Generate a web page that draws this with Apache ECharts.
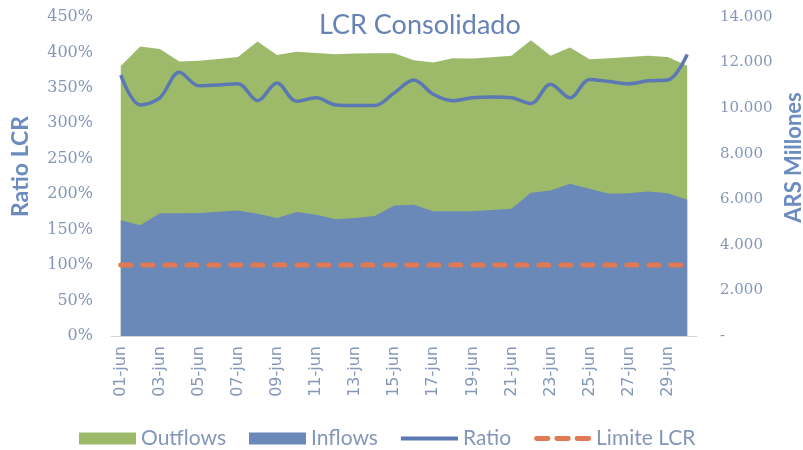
<!DOCTYPE html>
<html>
<head>
<meta charset="utf-8">
<script src="https://cdn.jsdelivr.net/npm/echarts@6/dist/echarts.min.js"></script>
<style>
  html, body { margin: 0; padding: 0; background: #fff; }
  #chart { width: 803px; height: 450px; }
</style>
</head>
<body>
<div id="chart"></div>
<script>
  // dias de junio (01 .. 30)
  var dias = [];
  for (var d = 1; d <= 30; d++) {
    dias.push((d < 10 ? '0' + d : '' + d) + '-jun');
  }

  // ARS millones
  var outflows = [11850, 12700, 12600, 12050, 12080, 12160, 12250, 12920, 12330, 12480,
                  12420, 12370, 12400, 12410, 12410, 12100, 12000, 12190, 12180, 12230,
                  12300, 12980, 12300, 12660, 12150, 12190, 12250, 12300, 12250, 11860];
  var inflows  = [5080, 4860, 5390, 5390, 5400, 5450, 5510, 5360, 5180, 5440,
                  5320, 5120, 5180, 5270, 5730, 5760, 5470, 5470, 5470, 5530,
                  5590, 6290, 6390, 6680, 6460, 6240, 6270, 6340, 6270, 5980];
  // ratio LCR (%)
  var ratio    = [368, 326, 336, 372, 353, 354, 356, 332, 357, 331,
                  336, 326, 325, 325, 343, 361, 341, 332, 336, 337,
                  336, 328, 355, 336, 362, 359, 356, 360, 361, 397];
  var limite   = dias.map(function() { return 100; });

  var LABEL = '#8497b8';
  var TITLE = '#6783b6';
  var NAME  = '#6c8cc0';

  function miles(v) {
    if (v === 0) return '-';
    return String(v).replace(/\B(?=(\d{3})+(?!\d))/g, '.');
  }

  var chart = echarts.init(document.getElementById('chart'));
  chart.setOption({
    animation: false,
    title: {
      text: 'LCR Consolidado',
      left: 314, top: 7,
      textStyle: { fontFamily: 'Lato', fontSize: 27, fontWeight: 'normal', color: TITLE }
    },
    legend: {
      top: 423, left: 74,
      itemWidth: 57, itemHeight: 12, itemGap: 23,
      textStyle: { fontFamily: 'Lato', fontSize: 21, color: LABEL },
      data: [
        { name: 'Outflows', icon: 'rect' },
        { name: 'Inflows', icon: 'rect' },
        { name: 'Ratio', icon: 'path://M0,0H57V4H0Z' },
        { name: 'Limite LCR', icon: 'path://M2,0H14A2,2 0 0 1 14,5H2A2,2 0 0 1 2,0Z M23,0H35A2,2 0 0 1 35,5H23A2,2 0 0 1 23,0Z M44,0H56A2,2 0 0 1 56,5H44A2,2 0 0 1 44,0Z' }
      ]
    },
    grid: { left: 111, right: 106, top: 17, bottom: 114, outerBoundsMode: 'none' },
    xAxis: {
      type: 'category',
      data: dias,
      boundaryGap: true,
      axisLine: { lineStyle: { color: '#d9d9d9' } },
      axisTick: { interval: 1, length: 5, lineStyle: { color: '#d9d9d9' } },
      axisLabel: { interval: 1, rotate: 90, margin: 10, fontFamily: 'DejaVu Sans', fontSize: 16, color: LABEL }
    },
    yAxis: [{
      type: 'value', min: 0, max: 450, interval: 50,
      name: 'Ratio LCR', nameLocation: 'middle', nameGap: 79, nameRotate: 90,
      nameTextStyle: { fontFamily: 'Lato', fontSize: 23, fontWeight: 'bold', color: NAME, padding: [0, 0, 0, 20] },
      axisLine: { show: false }, axisTick: { show: false }, splitLine: { show: false },
      axisLabel: { formatter: '{value}%', margin: 18, fontFamily: 'DejaVu Serif', fontSize: 16, color: LABEL }
    }, {
      type: 'value', min: 0, max: 14000, interval: 2000,
      name: 'ARS Millones', nameLocation: 'middle', nameGap: 84, nameRotate: 90,
      nameTextStyle: { fontFamily: 'Lato', fontSize: 22, fontWeight: 'bold', color: NAME, padding: [0, 0, 0, 38] },
      axisLine: { show: false }, axisTick: { show: false }, splitLine: { show: false },
      axisLabel: { formatter: miles, margin: 23, fontFamily: 'DejaVu Serif', fontSize: 15, color: LABEL }
    }],
    series: [{
      name: 'Outflows', type: 'line', yAxisIndex: 1, data: outflows,
      symbol: 'none', lineStyle: { width: 0 },
      itemStyle: { color: '#9cba6a' },
      areaStyle: { color: '#9cba6a', opacity: 1 }
    }, {
      name: 'Inflows', type: 'line', yAxisIndex: 1, data: inflows,
      symbol: 'none', lineStyle: { width: 0 },
      itemStyle: { color: '#6a88b8' },
      areaStyle: { color: '#6a88b8', opacity: 1 }
    }, {
      name: 'Ratio', type: 'line', yAxisIndex: 0, data: ratio,
      symbol: 'none', smooth: 0.35,
      itemStyle: { color: '#5b78b2' },
      lineStyle: { color: '#5b78b2', width: 3.5 }
    }, {
      name: 'Limite LCR', type: 'line', yAxisIndex: 0, data: limite,
      symbol: 'none',
      itemStyle: { color: '#e07a55' },
      lineStyle: { color: '#e07a55', width: 5, type: [10, 12], cap: 'round' }
    }]
  });
</script>
</body>
</html>
